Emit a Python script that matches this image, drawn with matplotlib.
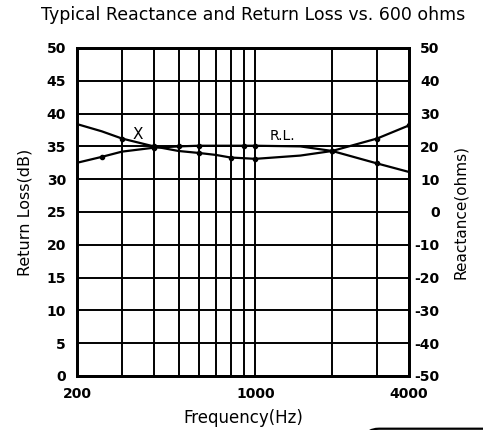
import matplotlib.pyplot as plt
from matplotlib.patches import FancyBboxPatch

# frequencies (Hz)
freq = [200, 250, 300, 400, 500, 600, 700, 800, 900, 1000, 1500, 2000, 3000, 4000]

# reactance curve, plotted against the left (dB) scale
x_curve = [38.4, 37.3, 36.2, 35.0, 34.3, 34.0, 33.7, 33.3, 33.2, 33.1, 33.6, 34.3, 36.2, 38.2]
# return loss curve (dB)
rl_curve = [32.5, 33.4, 34.2, 34.8, 35.0, 35.1, 35.1, 35.1, 35.1, 35.1, 35.0, 34.3, 32.4, 31.1]

grid_freqs = [200, 300, 400, 500, 600, 700, 800, 900, 1000, 2000, 3000, 4000]
xtick_freqs = [200, 1000, 4000]
xtick_labels = ['200', '1000', '4000']
left_ticks = list(range(0, 51, 5))
right_ticks = list(range(-50, 51, 10))

fig = plt.figure(figsize=(4.83, 4.30), dpi=100)
ax = fig.add_axes([0.1594, 0.1256, 0.6874, 0.7628])

ax.set_xscale('log')
ax.set_xlim(200, 4000)
ax.set_ylim(0, 50)

# grid
for f in grid_freqs:
    ax.axvline(f, color='black', lw=1.4, zorder=1)
for v in left_ticks:
    ax.axhline(v, color='black', lw=1.4, zorder=1)

ax.plot(freq, x_curve, color='black', lw=1.6, marker='o', ms=3,
        markevery=[2, 3, 5, 7, 9, 11, 12, 13], zorder=3)
ax.plot(freq, rl_curve, color='black', lw=1.6, marker='o', ms=3,
        markevery=[1, 3, 4, 5, 8, 9, 11, 12], zorder=3)

ax.text(347, 36.8, 'X', fontsize=11, ha='center', va='center')
ax.text(1140, 35.5, 'R.L.', fontsize=10, ha='left', va='bottom')

ax.set_yticks(left_ticks)
ax.set_yticklabels([str(v) for v in left_ticks], fontsize=10, fontweight='bold')
ax.set_xticks(xtick_freqs)
ax.set_xticklabels(xtick_labels, fontsize=10, fontweight='bold')
ax.xaxis.set_minor_locator(plt.NullLocator())
ax.tick_params(axis='y', length=0, pad=8)
ax.tick_params(axis='x', length=0, pad=8)
for s in ax.spines.values():
    s.set_linewidth(2)

ax.set_ylabel('Return Loss(dB)', fontsize=11.5, labelpad=10)
ax.set_xlabel('Frequency(Hz)', fontsize=12, labelpad=6)
ax.set_title('Typical Reactance and Return Loss vs. 600 ohms', fontsize=12.5, pad=20, x=0.53)

ax2 = ax.twinx()
ax2.set_ylim(-50, 50)
ax2.set_yticks(right_ticks)
ax2.set_yticklabels([str(v) for v in right_ticks], fontsize=10, fontweight='bold', ha='right')
ax2.tick_params(axis='y', length=0, pad=22)
ax2.set_ylabel('Reactance(ohms)', fontsize=11, labelpad=10)
for s in ax2.spines.values():
    s.set_linewidth(2)

# cropped box edge at bottom right
fig.patches.append(FancyBboxPatch((0.755, -0.05), 0.4, 0.053,
                                  boxstyle='round,pad=0,rounding_size=0.03',
                                  transform=fig.transFigure, fill=False,
                                  lw=1.6, edgecolor='black'))

fig.savefig('out.png', dpi=100)
